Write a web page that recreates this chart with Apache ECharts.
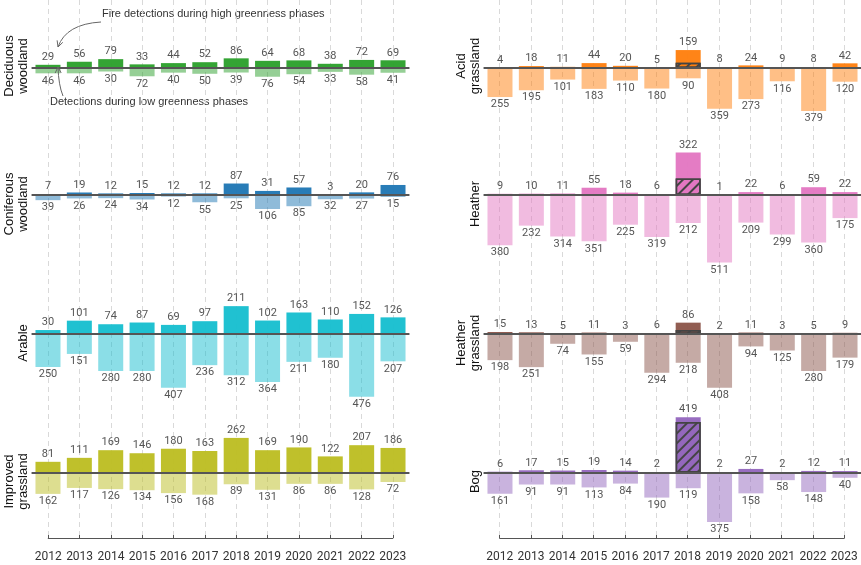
<!DOCTYPE html>
<html>
<head>
<meta charset="utf-8">
<script src="https://cdn.jsdelivr.net/npm/echarts@6/dist/echarts.min.js"></script>
<style>
  html, body { margin: 0; padding: 0; background: #fff; }
  #main { width: 861px; height: 565px; }
</style>
</head>
<body>
<div id="main"></div>
<script>
let years = ['2012', '2013', '2014', '2015', '2016', '2017', '2018', '2019', '2020', '2021', '2022', '2023']

// high greenness (up) / low greenness (down) detections
let decidHigh = [29, 56, 79, 33, 44, 52, 86, 64, 68, 38, 72, 69]
let decidLow = [46, 46, 30, 72, 40, 50, 39, 76, 54, 33, 58, 41]
let conifHigh = [7, 19, 12, 15, 12, 12, 87, 31, 57, 3, 20, 76]
let conifLow = [39, 26, 24, 34, 12, 55, 25, 106, 85, 32, 27, 15]
let arableHigh = [30, 101, 74, 87, 69, 97, 211, 102, 163, 110, 152, 126]
let arableLow = [250, 151, 280, 280, 407, 236, 312, 364, 211, 180, 476, 207]
let improvedHigh = [81, 111, 169, 146, 180, 163, 262, 169, 190, 122, 207, 186]
let improvedLow = [162, 117, 126, 134, 156, 168, 89, 131, 86, 86, 128, 72]
let acidHigh = [4, 18, 11, 44, 20, 5, 159, 8, 24, 9, 8, 42]
let acidLow = [255, 195, 101, 183, 110, 180, 90, 359, 273, 116, 379, 120]
let heatherHigh = [9, 10, 11, 55, 18, 6, 322, 1, 22, 6, 59, 22]
let heatherLow = [380, 232, 314, 351, 225, 319, 212, 511, 209, 299, 360, 175]
let hgrassHigh = [15, 13, 5, 11, 3, 6, 86, 2, 11, 3, 5, 9]
let hgrassLow = [198, 251, 74, 155, 59, 294, 218, 408, 94, 125, 280, 179]
let bogHigh = [6, 17, 15, 19, 14, 2, 419, 2, 27, 2, 12, 11]
let bogLow = [161, 91, 91, 113, 84, 190, 119, 375, 158, 58, 148, 40]

// hatched part of the 2018 bars
let acidHatch = ['-', '-', '-', '-', '-', '-', 48, '-', '-', '-', '-', '-']
let heatherHatch = ['-', '-', '-', '-', '-', '-', 125, '-', '-', '-', '-', '-']
let hgrassHatch = ['-', '-', '-', '-', '-', '-', 30, '-', '-', '-', '-', '-']
let bogHatch = ['-', '-', '-', '-', '-', '-', 383, '-', '-', '-', '-', '-']

let panels = [
  {name: 'Deciduous\nwoodland', high: decidHigh, low: decidLow, color: '#2ca02c', col: 0, row: 0},
  {name: 'Coniferous\nwoodland', high: conifHigh, low: conifLow, color: '#1f77b4', col: 0, row: 1},
  {name: 'Arable', high: arableHigh, low: arableLow, color: '#17becf', col: 0, row: 2},
  {name: 'Improved\ngrassland', high: improvedHigh, low: improvedLow, color: '#bcbd22', col: 0, row: 3},
  {name: 'Acid\ngrassland', high: acidHigh, low: acidLow, hatch: acidHatch, color: '#ff7f0e', col: 1, row: 0},
  {name: 'Heather', high: heatherHigh, low: heatherLow, hatch: heatherHatch, color: '#e377c2', col: 1, row: 1},
  {name: 'Heather\ngrassland', high: hgrassHigh, low: hgrassLow, hatch: hgrassHatch, color: '#8c564b', col: 1, row: 2},
  {name: 'Bog', high: bogHigh, low: bogLow, hatch: bogHatch, color: '#9467bd', col: 1, row: 3}
]

let zeroY = [57, 195, 334, 472.5]
let colLeft = [32.3, 484.3]
let colW = 376.4
let halfH = 79.2
let yMax = 600

let labelFont = {color: '#555', fontSize: 11, fontFamily: 'Roboto'}

function fade(hex, a) {
  let n = parseInt(hex.slice(1), 16)
  return 'rgba(' + (n >> 16) + ',' + ((n >> 8) & 255) + ',' + (n & 255) + ',' + a + ')'
}

let grids = [], xAxes = [], yAxes = [], series = [], graphics = []

panels.forEach(function (p, i) {
  grids.push({left: colLeft[p.col], width: colW, top: zeroY[p.row] - halfH, height: halfH * 2})
  xAxes.push({
    type: 'category', gridIndex: i, data: years, z: 5,
    axisLine: {onZero: true, lineStyle: {color: '#555', width: 2}},
    axisTick: {show: false}, axisLabel: {show: false}, splitLine: {show: false}
  })
  yAxes.push({type: 'value', gridIndex: i, min: -yMax, max: yMax, show: false, splitLine: {show: false}})

  series.push({
    type: 'bar', xAxisIndex: i, yAxisIndex: i, data: p.high,
    barWidth: 25, barGap: '-100%',
    itemStyle: {color: fade(p.color, 0.96)},
    label: Object.assign({show: true, position: 'outside', distance: 2}, labelFont),
    emphasis: {disabled: true}
  })
  series.push({
    type: 'bar', xAxisIndex: i, yAxisIndex: i,
    data: p.low.map(function (v) { return -v }),
    barWidth: 25, barGap: '-100%',
    itemStyle: {color: fade(p.color, 0.5)},
    label: Object.assign({
      show: true, position: 'outside', distance: 2,
      formatter: function (d) { return Math.abs(d.value) }
    }, labelFont),
    emphasis: {disabled: true}
  })
  if (p.hatch) {
    series.push({
      type: 'bar', xAxisIndex: i, yAxisIndex: i, data: p.hatch,
      barWidth: 25, barGap: '-100%', z: 3,
      itemStyle: {
        color: p.color, borderColor: '#444', borderWidth: 1.5,
        decal: {
          symbol: 'rect', symbolSize: 1, color: '#444',
          dashArrayX: [1, 0], dashArrayY: [1.5, 4.5], rotation: -Math.PI / 4
        }
      },
      label: {show: false},
      emphasis: {disabled: true}
    })
  }

  graphics.push({
    type: 'text', x: p.col === 0 ? 30 : 482, y: zeroY[p.row] + 9,
    rotation: Math.PI / 2,
    style: {
      text: p.name, fill: '#111', font: '13px "Liberation Sans", Arial, sans-serif',
      textAlign: 'center', textVerticalAlign: 'bottom', lineHeight: 14
    }
  })
})

// year axes + dashed vertical grid lines, one per column
let frameLeft = [48.3, 499.7]
frameLeft.forEach(function (l, c) {
  let gi = grids.length
  grids.push({left: l, width: 344.5, top: 0, height: 538})
  xAxes.push({
    type: 'category', gridIndex: gi, data: years, boundaryGap: false, offset: 8,
    axisLine: {lineStyle: {color: '#555', width: 1.2}},
    axisTick: {inside: true, length: 3, interval: 0, lineStyle: {color: '#555'}},
    axisLabel: {interval: 0, margin: 5, color: '#333', fontSize: 12, fontFamily: 'Roboto'},
    splitLine: {show: true, interval: 0, lineStyle: {color: '#d9d9d9', type: [5, 4], width: 1}}
  })
  yAxes.push({type: 'value', gridIndex: gi, show: false, splitLine: {show: false}})
})

// annotation arrows
function arrow(p0, c, p1) {
  let dx = p1[0] - c[0], dy = p1[1] - c[1]
  let len = Math.sqrt(dx * dx + dy * dy)
  dx /= len; dy /= len
  let hl = 6, hw = 3
  let a = [p1[0] - dx * hl - dy * hw, p1[1] - dy * hl + dx * hw]
  let b = [p1[0] - dx * hl + dy * hw, p1[1] - dy * hl - dx * hw]
  return [
    {type: 'bezierCurve', z: 10, shape: {x1: p0[0], y1: p0[1], cpx1: c[0], cpy1: c[1], x2: p1[0], y2: p1[1]},
      style: {stroke: '#666', lineWidth: 1, fill: null}},
    {type: 'polyline', z: 10, shape: {points: [a, p1, b]}, style: {stroke: '#666', lineWidth: 1, fill: null}}
  ]
}
graphics = graphics.concat(arrow([101, 22], [66, 24], [58, 47]))
graphics = graphics.concat(arrow([63, 96], [58.5, 85], [58, 67]))
graphics.push({
  type: 'text', x: 102, y: 14,
  style: {text: 'Fire detections during high greenness phases', fill: '#333',
    font: '11px "Liberation Sans", Arial, sans-serif', textVerticalAlign: 'middle'}
})
graphics.push({
  type: 'text', x: 50, y: 102,
  style: {text: 'Detections during low greenness phases', fill: '#333',
    font: '11px "Liberation Sans", Arial, sans-serif', textVerticalAlign: 'middle'}
})

let chart = echarts.init(document.getElementById('main'))
chart.setOption({
  animation: false,
  grid: grids,
  xAxis: xAxes,
  yAxis: yAxes,
  series: series,
  graphic: graphics
})
</script>
</body>
</html>
